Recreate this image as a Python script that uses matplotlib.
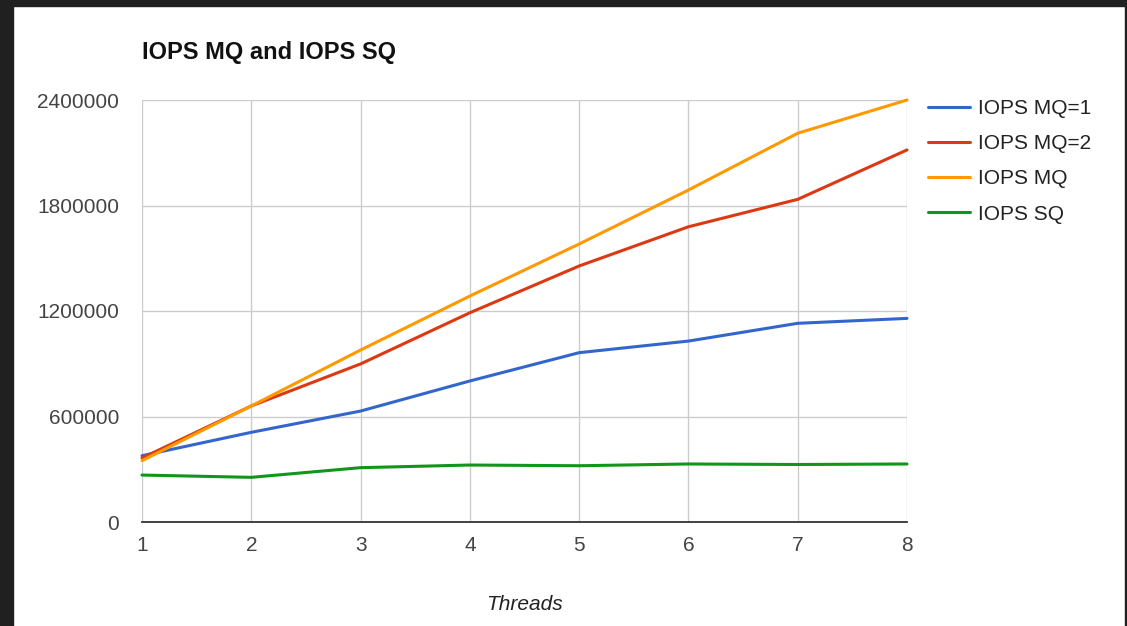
import matplotlib.pyplot as plt
from matplotlib.patches import Rectangle

threads = [1, 2, 3, 4, 5, 6, 7, 8]
iops_mq1 = [377000, 510000, 631000, 802000, 963000, 1029000, 1130000, 1158000]
iops_mq2 = [364000, 660000, 899000, 1190000, 1456000, 1679000, 1835000, 2116000]
iops_mq = [349000, 660000, 978000, 1285000, 1581000, 1888000, 2211000, 2400000]
iops_sq = [267000, 254000, 309000, 324000, 320000, 330000, 327000, 330000]

series_names = ["IOPS MQ=1", "IOPS MQ=2", "IOPS MQ", "IOPS SQ"]
colors = ["#3366cc", "#dc3912", "#ff9900", "#109618"]
yticks = [0, 600000, 1200000, 1800000, 2400000]

plt.rcParams['font.family'] = ['Liberation Sans', 'DejaVu Sans']

W, H = 1127, 626
fig = plt.figure(figsize=(W / 100, H / 100), dpi=100)
fig.patch.set_facecolor("white")

# dark frame around the chart
dark = "#202020"
fig.patches.append(Rectangle((0, 1 - 6 / H), 1, 6 / H, transform=fig.transFigure, color=dark, zorder=-1))
fig.patches.append(Rectangle((0, 0), 13 / W, 1, transform=fig.transFigure, color=dark, zorder=-1))
fig.patches.append(Rectangle((1 - 2 / W, 0), 2 / W, 1, transform=fig.transFigure, color=dark, zorder=-1))

ax = fig.add_axes([142 / W, (H - 522) / H, (907 - 142) / W, (522 - 100) / H])

for vals, name, c in zip([iops_mq1, iops_mq2, iops_mq, iops_sq], series_names, colors):
    ax.plot(threads, vals, color=c, lw=2.2, label=name, solid_capstyle='round', clip_on=False)

ax.set_xlim(1, 8)
ax.set_ylim(0, 2400000)
ax.set_xticks(threads)
ax.set_yticks(yticks)
ax.set_yticklabels([str(v) for v in yticks])
ax.grid(True, color="#cccccc", lw=1)
ax.set_axisbelow(True)
for s in ["top", "right", "left"]:
    ax.spines[s].set_visible(False)
ax.spines["bottom"].set_color("#333333")
ax.spines["bottom"].set_linewidth(1.3)
ax.spines["bottom"].set_zorder(3)
ax.tick_params(length=0, labelsize=15, labelcolor="#444444")
ax.tick_params(axis="y", pad=16.5)
ax.tick_params(axis="x", pad=10)

fig.text(142 / W, 1 - 53 / H, "IOPS MQ and IOPS SQ", fontsize=17, fontweight="bold",
         color="#111111", va="center", ha="left")
fig.text(525 / W, 1 - 604 / H, "Threads", fontsize=15, style="italic",
         color="#222222", va="center", ha="center")

fig.legend(loc="upper left", bbox_to_anchor=(928 / W, 1 - 99 / H), frameon=False,
           fontsize=15, handlelength=2.0, handletextpad=0.4, labelspacing=0.78,
           borderpad=0, borderaxespad=0, labelcolor="#222222")

fig.savefig("out.png", dpi=100, facecolor=fig.get_facecolor())
